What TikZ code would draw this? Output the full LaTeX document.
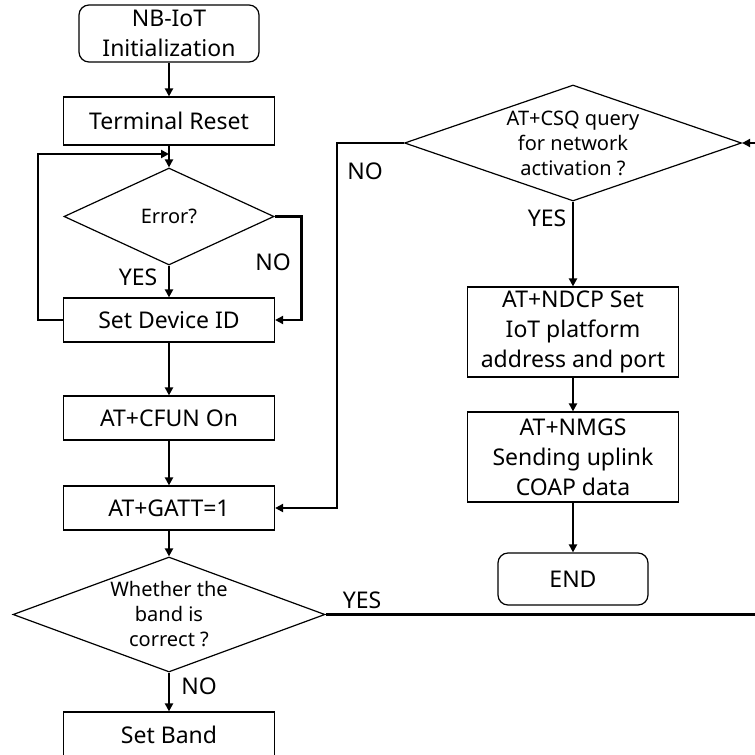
\documentclass[tikz,border=0pt]{standalone}
\usepackage{fontspec}
\setmainfont{Noto Sans}
\usetikzlibrary{arrows.meta,shapes,positioning,calc}

\begin{document}
\begin{tikzpicture}[
  x=1pt,y=-1pt,
  font=\fontsize{23}{30}\selectfont,
  term/.style={draw,line width=1.2pt,rounded corners=10pt,
               minimum width=180pt,minimum height=57pt,align=center,inner sep=0pt},
  proc/.style={draw,line width=1.2pt,
               minimum width=211pt,minimum height=44pt,align=center,inner sep=0pt},
  dec/.style={draw,line width=1.2pt,diamond,inner sep=-4pt,align=center,
              font=\fontsize{20}{25}\selectfont},
  lbl/.style={inner sep=0pt},
  arr/.style={-{Triangle[length=8pt,width=8pt]},line width=2.4pt}
]
\useasboundingbox (0,0) rectangle (755,755);
% --- left column ---
\node[term](start) at(169,33.5){NB-IoT\\Initialization};
\node[proc,minimum height=48pt](reset) at(169,121){Terminal Reset};
\node[dec,minimum width=210pt,minimum height=97pt,aspect=2.2](err) at(169,216.5){Error?};
\node[proc](devid) at(169,320){Set Device ID};
\node[proc](cfun)  at(169,418){AT+CFUN On};
\node[proc](gatt)  at(169,508){AT+GATT=1};
\node[dec,minimum width=312pt,minimum height=115pt,aspect=2.7](band) at(169,614.5)
  {Whether the\\band is\\correct ?};
\node[proc,minimum height=45pt](setband) at(169,734.5){Set Band};
% --- right column ---
\node[dec,minimum width=337pt,minimum height=116pt,aspect=2.9](csq) at(573,143)
  {AT+CSQ query\\for network\\activation ?};
\node[proc,minimum height=90pt](ndcp) at(573,332){AT+NDCP Set\\IoT platform\\address and port};
\node[proc,minimum height=90pt](nmgs) at(573,457){AT+NMGS\\Sending uplink\\COAP data};
\node[term,minimum width=150pt,minimum height=52pt](endn) at(573,579){END};
% helper points
\coordinate(loopin) at(169,154);
\coordinate(edgelo) at(760,614.5);
\coordinate(edgehi) at(760,143);
% straight arrows
\foreach \s/\t in {start/reset,reset/err,err/devid,devid/cfun,cfun/gatt,gatt/band,
                   band/setband,csq/ndcp,ndcp/nmgs,nmgs/endn}
  \draw[arr](\s)--(\t);
% error loop and NO branch
\draw[arr](devid.west)--++(-25,0)|-(loopin);
\draw[arr](err.east)--++(27,0)|-(devid.east);
% network query NO back to GATT
\draw[arr](csq.west)--++(-67,0)|-(gatt.east);
% band correct YES up to query
\draw[arr](band.east)--(edgelo)--(edgehi)--(csq.east);
% --- labels ---
\node[lbl](y1) at(138,277){YES};
\node[lbl](n1) at(273,262){NO};
\node[lbl](n2) at(365,171){NO};
\node[lbl](y2) at(547,218){YES};
\node[lbl](y3) at(362,600){YES};
\node[lbl](n3) at(199,686){NO};
\end{tikzpicture}
\end{document}
